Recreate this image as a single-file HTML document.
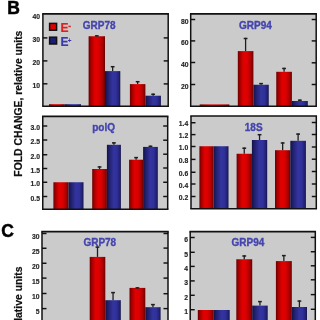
<!DOCTYPE html>
<html><head><meta charset="utf-8"><style>
html,body{margin:0;padding:0;background:#fff;width:320px;height:320px;overflow:hidden}
svg{display:block;will-change:transform}
.tl{font-family:"Liberation Sans",sans-serif;font-weight:bold;font-size:6.8px;fill:#262626;stroke:#262626;stroke-width:0.15px}
.tt{font-family:"Liberation Sans",sans-serif;font-weight:bold;font-size:10px;fill:#4545b0;stroke:#4545b0;stroke-width:0.35px}
.big{font-family:"Liberation Sans",sans-serif;font-weight:bold;font-size:17.5px;fill:#000;stroke:#000;stroke-width:0.5px}
.yl{font-family:"Liberation Sans",sans-serif;font-weight:bold;font-size:10.4px;fill:#111;stroke:#111;stroke-width:0.2px}
</style></head><body>
<svg width="320" height="320" viewBox="0 0 320 320">
<defs>
<linearGradient id="gr" x1="0" x2="1" y1="0" y2="0">
<stop offset="0" stop-color="#6c0000"/><stop offset="0.15" stop-color="#a60000"/><stop offset="0.38" stop-color="#e20000"/><stop offset="0.6" stop-color="#dc0000"/><stop offset="0.85" stop-color="#a80000"/><stop offset="1" stop-color="#680000"/>
</linearGradient>
<linearGradient id="gb" x1="0" x2="1" y1="0" y2="0">
<stop offset="0" stop-color="#131346"/><stop offset="0.2" stop-color="#222272"/><stop offset="0.5" stop-color="#3434a0"/><stop offset="0.72" stop-color="#30309a"/><stop offset="0.9" stop-color="#222276"/><stop offset="1" stop-color="#141448"/>
</linearGradient>
</defs>
<rect width="320" height="320" fill="#fff"/>
<text x="7.2" y="13.6" class="big">B</text>
<text x="1.3" y="236.6" class="big">C</text>
<text transform="translate(21.5,176.7) rotate(-90)" class="yl">FOLD CHANGE, relative units</text>
<text transform="translate(21.5,412.6) rotate(-90)" class="yl">FOLD CHANGE, relative units</text>
<rect x="42.9" y="13.9" width="125.29999999999998" height="92.39999999999999" fill="#cbcbcb"/>
<rect x="49" y="104.2" width="15.70" height="2.10" fill="url(#gr)"/>
<rect x="64.7" y="104.2" width="16.30" height="2.10" fill="url(#gb)"/>
<rect x="88.6" y="36.25" width="16.40" height="70.05" fill="url(#gr)"/>
<line x1="96.80" y1="35.2" x2="96.80" y2="36.25" stroke="#1e1e1e" stroke-width="1.3"/>
<line x1="94.90" y1="35.900000000000006" x2="98.70" y2="35.900000000000006" stroke="#1e1e1e" stroke-width="1.5"/>
<rect x="105" y="71.1" width="15.30" height="35.20" fill="url(#gb)"/>
<line x1="112.65" y1="66" x2="112.65" y2="71.1" stroke="#1e1e1e" stroke-width="1.3"/>
<line x1="110.75" y1="66.7" x2="114.55" y2="66.7" stroke="#1e1e1e" stroke-width="1.5"/>
<rect x="129.9" y="84.1" width="15.50" height="22.20" fill="url(#gr)"/>
<line x1="137.65" y1="81" x2="137.65" y2="84.1" stroke="#1e1e1e" stroke-width="1.3"/>
<line x1="135.75" y1="81.7" x2="139.55" y2="81.7" stroke="#1e1e1e" stroke-width="1.5"/>
<rect x="145.4" y="95.7" width="15.50" height="10.60" fill="url(#gb)"/>
<line x1="153.15" y1="93.6" x2="153.15" y2="95.7" stroke="#1e1e1e" stroke-width="1.3"/>
<line x1="151.25" y1="94.3" x2="155.05" y2="94.3" stroke="#1e1e1e" stroke-width="1.5"/>
<line x1="42.9" y1="13.9" x2="42.9" y2="106.3" stroke="#111" stroke-width="1.5"/>
<line x1="168.2" y1="13.9" x2="168.2" y2="106.3" stroke="#111" stroke-width="1.5"/>
<line x1="42.15" y1="13.9" x2="168.95" y2="13.9" stroke="#111" stroke-width="1.7"/>
<line x1="42.15" y1="106.3" x2="168.95" y2="106.3" stroke="#111" stroke-width="1.4"/>
<line x1="42.9" y1="37.9" x2="47.4" y2="37.9" stroke="#111" stroke-width="1.45"/>
<line x1="42.9" y1="60.9" x2="47.4" y2="60.9" stroke="#111" stroke-width="1.45"/>
<line x1="42.9" y1="83.8" x2="47.4" y2="83.8" stroke="#111" stroke-width="1.45"/>
<line x1="163.7" y1="37.9" x2="168.2" y2="37.9" stroke="#111" stroke-width="1.45"/>
<line x1="163.7" y1="60.9" x2="168.2" y2="60.9" stroke="#111" stroke-width="1.45"/>
<line x1="163.7" y1="83.9" x2="168.2" y2="83.9" stroke="#111" stroke-width="1.45"/>
<text x="40" y="19.4" class="tl" text-anchor="end">40</text>
<text x="40" y="41.5" class="tl" text-anchor="end">30</text>
<text x="40" y="64.5" class="tl" text-anchor="end">20</text>
<text x="40" y="87.5" class="tl" text-anchor="end">10</text>
<text x="82.8" y="28.6" class="tt">GRP78</text>
<rect x="190.7" y="13.9" width="125.5" height="92.39999999999999" fill="#cbcbcb"/>
<rect x="199.7" y="104.4" width="29.70" height="1.90" fill="url(#gr)"/>
<rect x="237.8" y="51.1" width="15.60" height="55.20" fill="url(#gr)"/>
<line x1="245.60" y1="37.8" x2="245.60" y2="51.1" stroke="#1e1e1e" stroke-width="1.3"/>
<line x1="243.70" y1="38.5" x2="247.50" y2="38.5" stroke="#1e1e1e" stroke-width="1.5"/>
<rect x="253.4" y="84.75" width="15.35" height="21.55" fill="url(#gb)"/>
<line x1="261.07" y1="82.9" x2="261.07" y2="84.75" stroke="#1e1e1e" stroke-width="1.3"/>
<line x1="259.18" y1="83.60000000000001" x2="262.97" y2="83.60000000000001" stroke="#1e1e1e" stroke-width="1.5"/>
<rect x="276.25" y="71.8" width="15.65" height="34.50" fill="url(#gr)"/>
<line x1="284.07" y1="67.8" x2="284.07" y2="71.8" stroke="#1e1e1e" stroke-width="1.3"/>
<line x1="282.18" y1="68.5" x2="285.97" y2="68.5" stroke="#1e1e1e" stroke-width="1.5"/>
<rect x="291.9" y="101" width="15.90" height="5.30" fill="url(#gb)"/>
<line x1="299.85" y1="99.5" x2="299.85" y2="101" stroke="#1e1e1e" stroke-width="1.3"/>
<line x1="297.95" y1="100.2" x2="301.75" y2="100.2" stroke="#1e1e1e" stroke-width="1.5"/>
<line x1="190.7" y1="13.9" x2="190.7" y2="106.3" stroke="#111" stroke-width="1.5"/>
<line x1="316.2" y1="13.9" x2="316.2" y2="106.3" stroke="#111" stroke-width="1.5"/>
<line x1="189.95" y1="13.9" x2="316.95" y2="13.9" stroke="#111" stroke-width="1.7"/>
<line x1="189.95" y1="106.3" x2="316.95" y2="106.3" stroke="#111" stroke-width="1.4"/>
<line x1="190.7" y1="19.5" x2="195.2" y2="19.5" stroke="#111" stroke-width="1.45"/>
<line x1="190.7" y1="40.9" x2="195.2" y2="40.9" stroke="#111" stroke-width="1.45"/>
<line x1="190.7" y1="62.5" x2="195.2" y2="62.5" stroke="#111" stroke-width="1.45"/>
<line x1="190.7" y1="84.5" x2="195.2" y2="84.5" stroke="#111" stroke-width="1.45"/>
<line x1="311.7" y1="19.5" x2="316.2" y2="19.5" stroke="#111" stroke-width="1.45"/>
<line x1="311.7" y1="40.9" x2="316.2" y2="40.9" stroke="#111" stroke-width="1.45"/>
<line x1="311.7" y1="62.8" x2="316.2" y2="62.8" stroke="#111" stroke-width="1.45"/>
<line x1="311.7" y1="84.5" x2="316.2" y2="84.5" stroke="#111" stroke-width="1.45"/>
<text x="188.5" y="23.5" class="tl" text-anchor="end">80</text>
<text x="188.5" y="45" class="tl" text-anchor="end">60</text>
<text x="188.5" y="66.5" class="tl" text-anchor="end">40</text>
<text x="188.5" y="88.5" class="tl" text-anchor="end">20</text>
<text x="239" y="28.7" class="tt">GRP94</text>
<rect x="42.75" y="116.4" width="124.94999999999999" height="92.9" fill="#cbcbcb"/>
<rect x="53.4" y="182.25" width="15.10" height="27.05" fill="url(#gr)"/>
<rect x="68.5" y="182.25" width="15.00" height="27.05" fill="url(#gb)"/>
<rect x="92.2" y="169" width="14.70" height="40.30" fill="url(#gr)"/>
<line x1="99.55" y1="166.25" x2="99.55" y2="169" stroke="#1e1e1e" stroke-width="1.3"/>
<line x1="97.65" y1="166.95" x2="101.45" y2="166.95" stroke="#1e1e1e" stroke-width="1.5"/>
<rect x="106.9" y="144.8" width="14.00" height="64.50" fill="url(#gb)"/>
<line x1="113.90" y1="142.2" x2="113.90" y2="144.8" stroke="#1e1e1e" stroke-width="1.3"/>
<line x1="112.00" y1="142.89999999999998" x2="115.80" y2="142.89999999999998" stroke="#1e1e1e" stroke-width="1.5"/>
<rect x="129.1" y="159.7" width="14.00" height="49.60" fill="url(#gr)"/>
<line x1="136.10" y1="156.9" x2="136.10" y2="159.7" stroke="#1e1e1e" stroke-width="1.3"/>
<line x1="134.20" y1="157.6" x2="138.00" y2="157.6" stroke="#1e1e1e" stroke-width="1.5"/>
<rect x="143.1" y="146.9" width="14.70" height="62.40" fill="url(#gb)"/>
<line x1="150.45" y1="145.6" x2="150.45" y2="146.9" stroke="#1e1e1e" stroke-width="1.3"/>
<line x1="148.55" y1="146.29999999999998" x2="152.35" y2="146.29999999999998" stroke="#1e1e1e" stroke-width="1.5"/>
<line x1="42.75" y1="116.4" x2="42.75" y2="209.3" stroke="#111" stroke-width="1.5"/>
<line x1="167.7" y1="116.4" x2="167.7" y2="209.3" stroke="#111" stroke-width="1.5"/>
<line x1="42.0" y1="116.4" x2="168.45" y2="116.4" stroke="#111" stroke-width="1.7"/>
<line x1="42.0" y1="209.3" x2="168.45" y2="209.3" stroke="#111" stroke-width="1.4"/>
<line x1="42.75" y1="126" x2="47.25" y2="126" stroke="#111" stroke-width="1.45"/>
<line x1="42.75" y1="140" x2="47.25" y2="140" stroke="#111" stroke-width="1.45"/>
<line x1="42.75" y1="154.75" x2="47.25" y2="154.75" stroke="#111" stroke-width="1.45"/>
<line x1="42.75" y1="168.5" x2="47.25" y2="168.5" stroke="#111" stroke-width="1.45"/>
<line x1="42.75" y1="182.25" x2="47.25" y2="182.25" stroke="#111" stroke-width="1.45"/>
<line x1="42.75" y1="196.5" x2="47.25" y2="196.5" stroke="#111" stroke-width="1.45"/>
<line x1="163.2" y1="126" x2="167.7" y2="126" stroke="#111" stroke-width="1.45"/>
<line x1="163.2" y1="140.2" x2="167.7" y2="140.2" stroke="#111" stroke-width="1.45"/>
<line x1="163.2" y1="154.2" x2="167.7" y2="154.2" stroke="#111" stroke-width="1.45"/>
<line x1="163.2" y1="168" x2="167.7" y2="168" stroke="#111" stroke-width="1.45"/>
<line x1="163.2" y1="182.25" x2="167.7" y2="182.25" stroke="#111" stroke-width="1.45"/>
<line x1="163.2" y1="196.5" x2="167.7" y2="196.5" stroke="#111" stroke-width="1.45"/>
<text x="40" y="130" class="tl" text-anchor="end">3.0</text>
<text x="40" y="144" class="tl" text-anchor="end">2.5</text>
<text x="40" y="158.8" class="tl" text-anchor="end">2.0</text>
<text x="40" y="172.5" class="tl" text-anchor="end">1.5</text>
<text x="40" y="186.3" class="tl" text-anchor="end">1.0</text>
<text x="40" y="200.5" class="tl" text-anchor="end">0.5</text>
<text x="92.25" y="131.1" class="tt">polQ</text>
<rect x="191" y="116" width="125.30000000000001" height="92.80000000000001" fill="#cbcbcb"/>
<rect x="199.4" y="146.25" width="14.10" height="62.55" fill="url(#gr)"/>
<rect x="213.5" y="146.25" width="15.00" height="62.55" fill="url(#gb)"/>
<rect x="236.6" y="153.75" width="15.30" height="55.05" fill="url(#gr)"/>
<line x1="244.25" y1="147.5" x2="244.25" y2="153.75" stroke="#1e1e1e" stroke-width="1.3"/>
<line x1="242.35" y1="148.2" x2="246.15" y2="148.2" stroke="#1e1e1e" stroke-width="1.5"/>
<rect x="251.9" y="140" width="15.30" height="68.80" fill="url(#gb)"/>
<line x1="259.55" y1="134" x2="259.55" y2="140" stroke="#1e1e1e" stroke-width="1.3"/>
<line x1="257.65" y1="134.7" x2="261.45" y2="134.7" stroke="#1e1e1e" stroke-width="1.5"/>
<rect x="275" y="150.2" width="15.30" height="58.60" fill="url(#gr)"/>
<line x1="282.65" y1="142.3" x2="282.65" y2="150.2" stroke="#1e1e1e" stroke-width="1.3"/>
<line x1="280.75" y1="143.0" x2="284.55" y2="143.0" stroke="#1e1e1e" stroke-width="1.5"/>
<rect x="290.3" y="140.8" width="15.60" height="68.00" fill="url(#gb)"/>
<line x1="298.10" y1="133.4" x2="298.10" y2="140.8" stroke="#1e1e1e" stroke-width="1.3"/>
<line x1="296.20" y1="134.1" x2="300.00" y2="134.1" stroke="#1e1e1e" stroke-width="1.5"/>
<line x1="191" y1="116" x2="191" y2="208.8" stroke="#111" stroke-width="1.5"/>
<line x1="316.3" y1="116" x2="316.3" y2="208.8" stroke="#111" stroke-width="1.5"/>
<line x1="190.25" y1="116" x2="317.05" y2="116" stroke="#111" stroke-width="1.7"/>
<line x1="190.25" y1="208.8" x2="317.05" y2="208.8" stroke="#111" stroke-width="1.4"/>
<line x1="191" y1="122.75" x2="195.5" y2="122.75" stroke="#111" stroke-width="1.45"/>
<line x1="191" y1="134.6" x2="195.5" y2="134.6" stroke="#111" stroke-width="1.45"/>
<line x1="191" y1="146.5" x2="195.5" y2="146.5" stroke="#111" stroke-width="1.45"/>
<line x1="191" y1="159.4" x2="195.5" y2="159.4" stroke="#111" stroke-width="1.45"/>
<line x1="191" y1="172.25" x2="195.5" y2="172.25" stroke="#111" stroke-width="1.45"/>
<line x1="191" y1="184" x2="195.5" y2="184" stroke="#111" stroke-width="1.45"/>
<line x1="191" y1="196.5" x2="195.5" y2="196.5" stroke="#111" stroke-width="1.45"/>
<line x1="311.8" y1="122.5" x2="316.3" y2="122.5" stroke="#111" stroke-width="1.45"/>
<line x1="311.8" y1="134.5" x2="316.3" y2="134.5" stroke="#111" stroke-width="1.45"/>
<line x1="311.8" y1="147" x2="316.3" y2="147" stroke="#111" stroke-width="1.45"/>
<line x1="311.8" y1="159.2" x2="316.3" y2="159.2" stroke="#111" stroke-width="1.45"/>
<line x1="311.8" y1="171.5" x2="316.3" y2="171.5" stroke="#111" stroke-width="1.45"/>
<line x1="311.8" y1="184" x2="316.3" y2="184" stroke="#111" stroke-width="1.45"/>
<line x1="311.8" y1="196.5" x2="316.3" y2="196.5" stroke="#111" stroke-width="1.45"/>
<text x="188.3" y="126.3" class="tl" text-anchor="end">1.4</text>
<text x="188.3" y="138.3" class="tl" text-anchor="end">1.2</text>
<text x="188.3" y="150.2" class="tl" text-anchor="end">1.0</text>
<text x="188.3" y="163" class="tl" text-anchor="end">0.8</text>
<text x="188.3" y="176" class="tl" text-anchor="end">0.6</text>
<text x="188.3" y="187.8" class="tl" text-anchor="end">0.4</text>
<text x="188.3" y="200.2" class="tl" text-anchor="end">0.2</text>
<text x="244.8" y="130.9" class="tt">18S</text>
<rect x="42" y="231.7" width="126" height="98.30000000000001" fill="#cbcbcb"/>
<rect x="89.7" y="256.9" width="15.60" height="73.10" fill="url(#gr)"/>
<line x1="97.50" y1="246.4" x2="97.50" y2="256.9" stroke="#1e1e1e" stroke-width="1.3"/>
<line x1="95.60" y1="247.1" x2="99.40" y2="247.1" stroke="#1e1e1e" stroke-width="1.5"/>
<rect x="105.3" y="300.2" width="15.50" height="29.80" fill="url(#gb)"/>
<line x1="113.05" y1="291.9" x2="113.05" y2="300.2" stroke="#1e1e1e" stroke-width="1.3"/>
<line x1="111.15" y1="292.59999999999997" x2="114.95" y2="292.59999999999997" stroke="#1e1e1e" stroke-width="1.5"/>
<rect x="129.5" y="287.9" width="15.80" height="42.10" fill="url(#gr)"/>
<line x1="137.40" y1="287.2" x2="137.40" y2="287.9" stroke="#1e1e1e" stroke-width="1.3"/>
<line x1="135.50" y1="287.9" x2="139.30" y2="287.9" stroke="#1e1e1e" stroke-width="1.5"/>
<rect x="145.3" y="307.2" width="15.30" height="22.80" fill="url(#gb)"/>
<line x1="152.95" y1="303.9" x2="152.95" y2="307.2" stroke="#1e1e1e" stroke-width="1.3"/>
<line x1="151.05" y1="304.59999999999997" x2="154.85" y2="304.59999999999997" stroke="#1e1e1e" stroke-width="1.5"/>
<line x1="42" y1="231.7" x2="42" y2="330" stroke="#111" stroke-width="1.5"/>
<line x1="168" y1="231.7" x2="168" y2="330" stroke="#111" stroke-width="1.5"/>
<line x1="41.25" y1="231.7" x2="168.75" y2="231.7" stroke="#111" stroke-width="1.7"/>
<line x1="41.25" y1="330" x2="168.75" y2="330" stroke="#111" stroke-width="1.4"/>
<line x1="42" y1="233.5" x2="46.5" y2="233.5" stroke="#111" stroke-width="1.45"/>
<line x1="42" y1="248.25" x2="46.5" y2="248.25" stroke="#111" stroke-width="1.45"/>
<line x1="42" y1="263.25" x2="46.5" y2="263.25" stroke="#111" stroke-width="1.45"/>
<line x1="42" y1="278.1" x2="46.5" y2="278.1" stroke="#111" stroke-width="1.45"/>
<line x1="42" y1="293.5" x2="46.5" y2="293.5" stroke="#111" stroke-width="1.45"/>
<line x1="42" y1="308.6" x2="46.5" y2="308.6" stroke="#111" stroke-width="1.45"/>
<line x1="163.5" y1="233.5" x2="168" y2="233.5" stroke="#111" stroke-width="1.45"/>
<line x1="163.5" y1="248.1" x2="168" y2="248.1" stroke="#111" stroke-width="1.45"/>
<line x1="163.5" y1="263" x2="168" y2="263" stroke="#111" stroke-width="1.45"/>
<line x1="163.5" y1="278.1" x2="168" y2="278.1" stroke="#111" stroke-width="1.45"/>
<line x1="163.5" y1="293.7" x2="168" y2="293.7" stroke="#111" stroke-width="1.45"/>
<line x1="163.5" y1="308.6" x2="168" y2="308.6" stroke="#111" stroke-width="1.45"/>
<text x="39.5" y="238.5" class="tl" text-anchor="end">30</text>
<text x="39.5" y="254" class="tl" text-anchor="end">25</text>
<text x="39.5" y="268.8" class="tl" text-anchor="end">20</text>
<text x="39.5" y="283.8" class="tl" text-anchor="end">15</text>
<text x="39.5" y="298.8" class="tl" text-anchor="end">10</text>
<text x="39.5" y="314" class="tl" text-anchor="end">5</text>
<text x="83.4" y="246" class="tt">GRP78</text>
<rect x="190.2" y="231.6" width="125.10000000000002" height="98.4" fill="#cbcbcb"/>
<rect x="197.8" y="310" width="15.95" height="20.00" fill="url(#gr)"/>
<rect x="213.75" y="310" width="15.95" height="20.00" fill="url(#gb)"/>
<rect x="236.3" y="259.25" width="15.90" height="70.75" fill="url(#gr)"/>
<line x1="244.25" y1="255.3" x2="244.25" y2="259.25" stroke="#1e1e1e" stroke-width="1.3"/>
<line x1="242.35" y1="256.0" x2="246.15" y2="256.0" stroke="#1e1e1e" stroke-width="1.5"/>
<rect x="252.2" y="305.6" width="15.50" height="24.40" fill="url(#gb)"/>
<line x1="259.95" y1="300.9" x2="259.95" y2="305.6" stroke="#1e1e1e" stroke-width="1.3"/>
<line x1="258.05" y1="301.59999999999997" x2="261.85" y2="301.59999999999997" stroke="#1e1e1e" stroke-width="1.5"/>
<rect x="275.9" y="261.1" width="15.90" height="68.90" fill="url(#gr)"/>
<line x1="283.85" y1="254.9" x2="283.85" y2="261.1" stroke="#1e1e1e" stroke-width="1.3"/>
<line x1="281.95" y1="255.6" x2="285.75" y2="255.6" stroke="#1e1e1e" stroke-width="1.5"/>
<rect x="291.8" y="307" width="15.20" height="23.00" fill="url(#gb)"/>
<line x1="299.40" y1="300.4" x2="299.40" y2="307" stroke="#1e1e1e" stroke-width="1.3"/>
<line x1="297.50" y1="301.09999999999997" x2="301.30" y2="301.09999999999997" stroke="#1e1e1e" stroke-width="1.5"/>
<line x1="190.2" y1="231.6" x2="190.2" y2="330" stroke="#111" stroke-width="1.5"/>
<line x1="315.3" y1="231.6" x2="315.3" y2="330" stroke="#111" stroke-width="1.5"/>
<line x1="189.45" y1="231.6" x2="316.05" y2="231.6" stroke="#111" stroke-width="1.7"/>
<line x1="189.45" y1="330" x2="316.05" y2="330" stroke="#111" stroke-width="1.4"/>
<line x1="190.2" y1="237.5" x2="194.7" y2="237.5" stroke="#111" stroke-width="1.45"/>
<line x1="190.2" y1="252.3" x2="194.7" y2="252.3" stroke="#111" stroke-width="1.45"/>
<line x1="190.2" y1="266.4" x2="194.7" y2="266.4" stroke="#111" stroke-width="1.45"/>
<line x1="190.2" y1="280.9" x2="194.7" y2="280.9" stroke="#111" stroke-width="1.45"/>
<line x1="190.2" y1="295.3" x2="194.7" y2="295.3" stroke="#111" stroke-width="1.45"/>
<line x1="190.2" y1="309.7" x2="194.7" y2="309.7" stroke="#111" stroke-width="1.45"/>
<line x1="310.8" y1="237.4" x2="315.3" y2="237.4" stroke="#111" stroke-width="1.45"/>
<line x1="310.8" y1="251.75" x2="315.3" y2="251.75" stroke="#111" stroke-width="1.45"/>
<line x1="310.8" y1="265.8" x2="315.3" y2="265.8" stroke="#111" stroke-width="1.45"/>
<line x1="310.8" y1="279.8" x2="315.3" y2="279.8" stroke="#111" stroke-width="1.45"/>
<line x1="310.8" y1="294.6" x2="315.3" y2="294.6" stroke="#111" stroke-width="1.45"/>
<line x1="310.8" y1="309.3" x2="315.3" y2="309.3" stroke="#111" stroke-width="1.45"/>
<text x="188" y="242.2" class="tl" text-anchor="end">6</text>
<text x="188" y="256.8" class="tl" text-anchor="end">5</text>
<text x="188" y="270.7" class="tl" text-anchor="end">4</text>
<text x="188" y="285.0" class="tl" text-anchor="end">3</text>
<text x="188" y="299.5" class="tl" text-anchor="end">2</text>
<text x="188" y="314.0" class="tl" text-anchor="end">1</text>
<text x="231.6" y="246.4" class="tt">GRP94</text>
<!-- legend -->
<rect x="49.6" y="23.4" width="7" height="6.8" fill="#e00000" stroke="#111" stroke-width="1.5"/>
<rect x="49.6" y="37.2" width="7" height="6.8" fill="#1e1e70" stroke="#111" stroke-width="1.5"/>
<text x="60.6" y="32.4" style="font-family:'Liberation Sans';font-weight:bold;font-size:12px;fill:#e02020;stroke:#e02020;stroke-width:0.2px">E</text>
<rect x="68.4" y="25.7" width="2.4" height="1.5" fill="#e02020"/>
<text x="60.6" y="45.5" style="font-family:'Liberation Sans';font-weight:bold;font-size:12px;fill:#3a3ab0;stroke:#3a3ab0;stroke-width:0.2px">E</text>
<text x="67.8" y="42.8" style="font-family:'Liberation Sans';font-weight:bold;font-size:6.5px;fill:#3a3ab0">+</text>
</svg>
</body></html>
